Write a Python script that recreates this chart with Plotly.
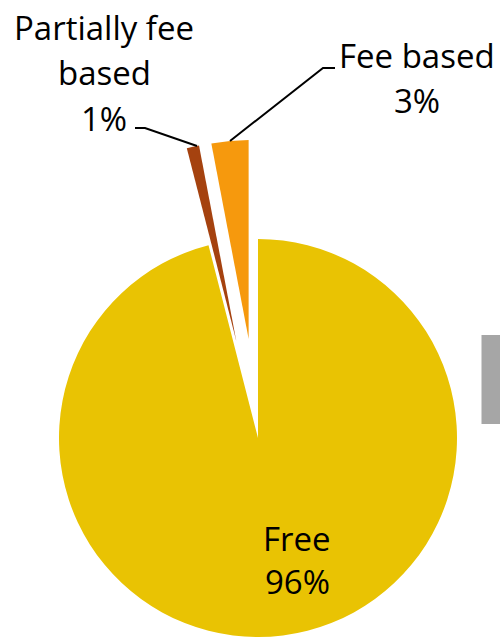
import math
import plotly.graph_objects as go

# ---- data ----
categories = ["Free", "Partially fee based", "Fee based"]
values = [96, 1, 3]
pulls = [0.0, 0.5, 0.5]
colors = ["#E9C303", "#A5420F", "#F6990D"]
label_lines = {
    "Free": ["Free", "96%"],
    "Partially fee based": ["Partially fee", "based", "1%"],
    "Fee based": ["Fee based", "3%"],
}

W, H = 500, 637
CX, CY, R = 258, 438, 199  # pixel centre / radius of the un-pulled pie

fig = go.Figure()
total = sum(values)
start = 0.0
for i, (cat, v, p) in enumerate(zip(categories, values, pulls)):
    mid = (start + v / 2) / total * 360.0  # clockwise from 12 o'clock
    start += v
    cx = CX + p * R * math.sin(math.radians(mid))
    cy = CY - p * R * math.cos(math.radians(mid))
    cols = ["rgba(0,0,0,0)"] * len(values)
    cols[i] = colors[i]
    fig.add_trace(go.Pie(
        labels=categories, values=values, sort=False, direction="clockwise",
        rotation=0, marker=dict(colors=cols, line=dict(width=0)),
        textinfo="none", hoverinfo="label+percent", showlegend=False,
        domain=dict(x=[(cx - R) / W, (cx + R) / W],
                    y=[(H - cy - R) / H, (H - cy + R) / H]),
    ))

FONT = dict(family="Open Sans, Noto Sans, sans-serif", size=33, color="#000000")


def add_lines(lines, x, y0, step):
    for k, t in enumerate(lines):
        fig.add_annotation(text=t, x=x / W, y=1 - (y0 + k * step) / H,
                           xref="paper", yref="paper", showarrow=False,
                           xanchor="center", yanchor="middle", font=FONT)


add_lines(label_lines["Partially fee based"], 104, 28, 45)
add_lines(label_lines["Fee based"], 417, 55, 45)
add_lines(label_lines["Free"], 297, 538, 43)

# leader lines
fig.add_shape(type="path", path="M 135 128 L 145 128 L 197 146",
              xref="x", yref="y", line=dict(color="black", width=2))
fig.add_shape(type="path", path="M 230 141 L 323 68 L 335 68",
              xref="x", yref="y", line=dict(color="black", width=2))
# partial grey element on the right edge
fig.add_shape(type="rect", x0=481.5, x1=501, y0=335, y1=424, xref="x", yref="y",
              fillcolor="#A6A6A6", line=dict(width=0), layer="above")

fig.update_layout(
    width=W, height=H, margin=dict(l=0, r=0, t=0, b=0),
    paper_bgcolor="white", plot_bgcolor="rgba(0,0,0,0)",
    xaxis=dict(range=[0, W], visible=False, fixedrange=True),
    yaxis=dict(range=[H, 0], visible=False, fixedrange=True),
)
fig.write_html("out.html", config={"displayModeBar": False},
               post_script="document.body.style.margin='0';"
                           "document.body.style.overflow='hidden';")
